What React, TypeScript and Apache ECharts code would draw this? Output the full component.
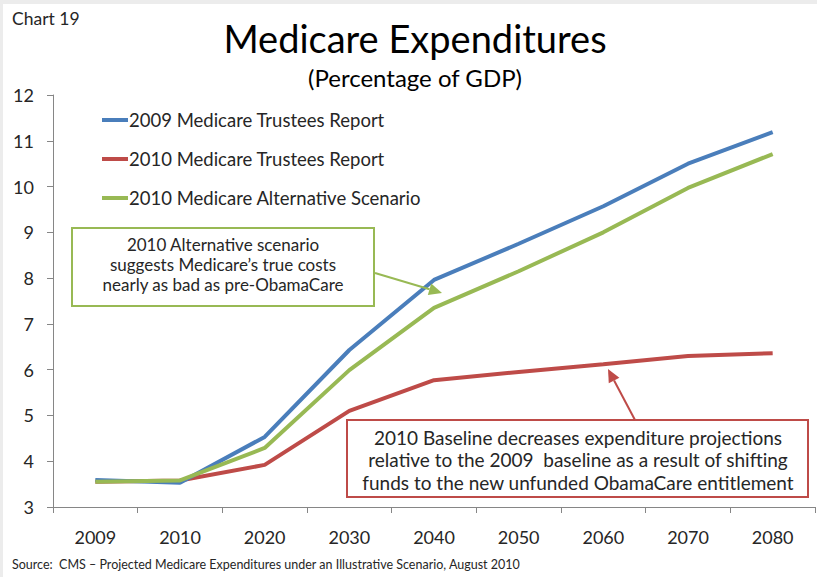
import React, { useEffect, useRef } from "react";
import * as echarts from "echarts";

const categories = ["2009", "2010", "2020", "2030", "2040", "2050", "2060", "2070", "2080"];
const trustees2009 = [3.59, 3.53, 4.53, 6.43, 7.96, 8.75, 9.57, 10.5, 11.19];
const trustees2010 = [3.55, 3.58, 3.92, 5.1, 5.77, 5.95, 6.12, 6.3, 6.36];
const alternative2010 = [3.55, 3.58, 4.29, 5.99, 7.35, 8.15, 9.0, 9.97, 10.71];
const seriesNames = [
  "2009 Medicare Trustees Report",
  "2010 Medicare Trustees Report",
  "2010 Medicare Alternative Scenario",
];
const colors = ["#4a7ebb", "#be4b48", "#98b954"];
const greenNote = [
  "2010 Alternative scenario",
  "suggests Medicare\u2019s true costs",
  "nearly as bad as pre-ObamaCare",
];
const redNote = [
  "2010 Baseline decreases expenditure projections",
  "relative to the 2009  baseline as a result of shifting",
  "funds to the new unfunded ObamaCare entitlement",
];

const FONT = "Lato, 'Open Sans', sans-serif";

function arrow(x1: number, y1: number, x2: number, y2: number, color: string) {
  const dx = x2 - x1;
  const dy = y2 - y1;
  const len = Math.sqrt(dx * dx + dy * dy);
  const ux = dx / len;
  const uy = dy / len;
  const hl = 13;
  const hw = 6;
  const bx = x2 - ux * hl;
  const by = y2 - uy * hl;
  return [
    {
      type: "line",
      shape: { x1, y1, x2: bx, y2: by },
      style: { stroke: color, lineWidth: 2 },
      z: 10,
    },
    {
      type: "polygon",
      shape: {
        points: [
          [x2, y2],
          [bx - uy * hw, by + ux * hw],
          [bx + uy * hw, by - ux * hw],
        ],
      },
      style: { fill: color },
      z: 10,
    },
  ];
}

export default function App() {
  const ref = useRef<HTMLDivElement>(null);
  useEffect(() => {
    if (!ref.current) return;
    const chart = echarts.init(ref.current, undefined, { renderer: "svg" });
    const dataSets = [trustees2009, trustees2010, alternative2010];
    const option: any = {
      animation: false,
      backgroundColor: "#ffffff",
      textStyle: { fontFamily: FONT },
      grid: { left: 53, right: 2, top: 95, bottom: 70, containLabel: false },
      legend: {
        orient: "vertical",
        left: 97,
        top: 104,
        itemWidth: 26,
        itemHeight: 4,
        itemGap: 17,
        icon: "rect",
        textStyle: { fontSize: 18.5, color: "#262626", fontFamily: FONT, lineHeight: 22, padding: [0, 0, 0, -4] },
        data: seriesNames,
      },
      xAxis: {
        type: "category",
        data: categories,
        boundaryGap: true,
        axisLine: { lineStyle: { color: "#868686", width: 1 } },
        axisTick: { show: true, length: 6, lineStyle: { color: "#868686" } },
        axisLabel: { fontSize: 18, color: "#262626", margin: 21, fontFamily: FONT },
      },
      yAxis: {
        type: "value",
        min: 3,
        max: 12,
        interval: 1,
        splitLine: { show: false },
        axisLine: { show: true, lineStyle: { color: "#868686", width: 1 } },
        axisTick: { show: true, length: 6, lineStyle: { color: "#868686" } },
        axisLabel: { fontSize: 18, color: "#262626", margin: 19, fontFamily: FONT },
      },
      series: dataSets.map((d, i) => ({
        name: seriesNames[i],
        type: "line",
        data: d,
        symbol: "none",
        lineStyle: { color: colors[i], width: 4 },
        itemStyle: { color: colors[i] },
        z: i === 1 ? 2 : i === 0 ? 3 : 4,
      })),
      graphic: [
        { type: "rect", shape: { x: 0, y: 0, width: 817, height: 4 }, style: { fill: "#ececec" } },
        { type: "rect", shape: { x: 0, y: 0, width: 3, height: 577 }, style: { fill: "#ececec" } },
        {
          type: "text",
          left: 12,
          top: 9,
          style: { text: "Chart 19", fontSize: 17.5, fill: "#262626", fontFamily: FONT },
        },
        {
          type: "text",
          x: 415,
          y: 38,
          style: {
            text: "Medicare Expenditures",
            fontSize: 38,
            fill: "#000000",
            fontFamily: FONT,
            textAlign: "center",
            textVerticalAlign: "middle",
          },
        },
        {
          type: "text",
          x: 415,
          y: 77,
          style: {
            text: "(Percentage of GDP)",
            fontSize: 24,
            fill: "#000000",
            fontFamily: FONT,
            textAlign: "center",
            textVerticalAlign: "middle",
          },
        },
        {
          type: "text",
          left: 12,
          top: 558,
          style: {
            text: "Source:  CMS \u2013 Projected Medicare Expenditures under an Illustrative Scenario, August 2010",
            fontSize: 12.5,
            fill: "#262626",
            fontFamily: FONT,
          },
        },
        {
          type: "rect",
          shape: { x: 72, y: 228, width: 302, height: 78 },
          style: { fill: "#ffffff", stroke: "#98b954", lineWidth: 2 },
          z: 9,
        },
        {
          type: "text",
          x: 223,
          y: 264,
          z: 11,
          style: {
            text: greenNote.join("\n"),
            fontSize: 17,
            lineHeight: 20,
            fill: "#262626",
            fontFamily: FONT,
            textAlign: "center",
            textVerticalAlign: "middle",
          },
        },
        ...arrow(375, 273, 442, 293, "#98b954"),
        {
          type: "rect",
          shape: { x: 347, y: 420, width: 461, height: 77 },
          style: { fill: "#ffffff", stroke: "#be4b48", lineWidth: 2 },
          z: 9,
        },
        {
          type: "text",
          x: 578,
          y: 459.5,
          z: 11,
          style: {
            text: redNote.join("\n"),
            fontSize: 19,
            lineHeight: 22.5,
            fill: "#262626",
            fontFamily: FONT,
            textAlign: "center",
            textVerticalAlign: "middle",
          },
        },
        ...arrow(635, 420, 608, 369, "#be4b48"),
      ],
    };
    chart.setOption(option);
    return () => chart.dispose();
  }, []);
  return (
    <div
      ref={ref}
      style={{ position: "fixed", left: 0, top: 0, width: 817, height: 577 }}
    />
  );
}
